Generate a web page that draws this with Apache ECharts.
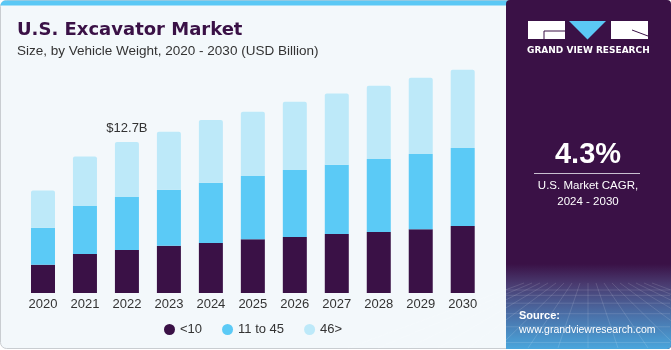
<!DOCTYPE html>
<html>
<head>
<meta charset="utf-8">
<script src="https://cdn.jsdelivr.net/npm/echarts@6/dist/echarts.min.js"></script>
<style>
html, body { margin: 0; padding: 0; background: #fff; }
#chart { width: 671px; height: 350px; }
</style>
</head>
<body>
<div id="chart"></div>
<script>
// data (USD Billion)
var years = ['2020', '2021', '2022', '2023', '2024', '2025', '2026', '2027', '2028', '2029', '2030'];
var under10 = [2.38, 3.28, 3.62, 3.98, 4.21, 4.52, 4.71, 4.96, 5.13, 5.36, 5.63];
var from11to45 = [3.11, 4.04, 4.46, 4.71, 5.07, 5.32, 5.63, 5.83, 6.14, 6.33, 6.56];
var over46 = [3.14, 4.17, 4.62, 4.88, 5.27, 5.41, 5.74, 6.00, 6.16, 6.42, 6.58];
var seriesNames = ['<10', '11 to 45', '46>'];
var labelIndex = 2;
var labelText = '$12.7B';

var purple = '#3a1146';
var blue = '#5bcaf6';
var lightBlue = '#bde9f9';
var font = 'Liberation Sans, Arial, sans-serif';

var chart = echarts.init(document.getElementById('chart'));

var topData = over46.map(function (v, i) {
    if (i === labelIndex) {
        return {
            value: v,
            label: {
                show: true, position: 'top', distance: 7,
                formatter: labelText, color: '#333', fontSize: 13, fontFamily: font
            }
        };
    }
    return v;
});

// bottom grid decoration of the right panel
var deco = [];
for (var k = 0; k < 7; k++) {
    var yy = 290 + k * k * 1.3 + k * 4;
    deco.push({
        type: 'line', silent: true,
        shape: { x1: 506, y1: yy, x2: 670, y2: yy },
        style: { stroke: 'rgba(255,255,255,0.13)', lineWidth: 1 }
    });
}
for (var m = -8; m <= 8; m++) {
    deco.push({
        type: 'line', silent: true,
        shape: { x1: 588 + m * 8, y1: 283, x2: 588 + m * 30, y2: 348 },
        style: { stroke: 'rgba(255,255,255,0.13)', lineWidth: 1 }
    });
}

var option = {
    animation: false,
    graphic: [
        {
            type: 'rect', z: -10, silent: true,
            shape: { x: 0.5, y: 0.5, width: 669, height: 348, r: 6 },
            style: { fill: '#f3f8fb', stroke: '#c9cdd1', lineWidth: 1 }
        },
        {
            type: 'rect', z: -9, silent: true,
            shape: { x: 0.5, y: 0.5, width: 510, height: 5, r: [5, 0, 0, 0] },
            style: { fill: '#5bc8f5' }
        },
        {
            type: 'rect', z: -8, silent: true,
            shape: { x: 506, y: 0, width: 165, height: 349, r: [4, 4, 4, 0] },
            style: { fill: purple }
        },
        {
            type: 'rect', z: -7, silent: true,
            shape: { x: 506, y: 264, width: 165, height: 85, r: [0, 0, 4, 0] },
            style: {
                fill: new echarts.graphic.LinearGradient(0, 0, 0, 1, [
                    { offset: 0, color: purple },
                    { offset: 0.25, color: '#4a3d72' },
                    { offset: 0.6, color: '#4a70a8' },
                    { offset: 1, color: '#4aa6dc' }
                ])
            }
        },
        { type: 'group', z: -6, silent: true, children: deco },
        // logo
        { type: 'rect', silent: true, shape: { x: 528, y: 21, width: 37, height: 18 }, style: { fill: '#fff' } },
        { type: 'polyline', silent: true, shape: { points: [[565, 31], [544, 31], [544, 39]] }, style: { stroke: purple, lineWidth: 1, fill: null } },
        { type: 'polygon', silent: true, shape: { points: [[569, 21], [606, 21], [587.5, 39.5]] }, style: { fill: '#5bc8f5' } },
        { type: 'rect', silent: true, shape: { x: 611, y: 21, width: 37, height: 18 }, style: { fill: '#fff' } },
        { type: 'line', silent: true, shape: { x1: 632, y1: 30, x2: 648, y2: 36 }, style: { stroke: purple, lineWidth: 1 } },
        {
            type: 'text', silent: true, left: 527, top: 46,
            style: { text: 'GRAND VIEW RESEARCH', fill: '#fff', font: 'bold 9px DejaVu Sans, sans-serif' }
        },
        {
            type: 'text', silent: true, x: 588, y: 155,
            style: { text: '4.3%', fill: '#fff', font: 'bold 29px ' + font, align: 'center', verticalAlign: 'middle' }
        },
        { type: 'line', silent: true, shape: { x1: 534, y1: 173.5, x2: 640, y2: 173.5 }, style: { stroke: '#c8bfd0', lineWidth: 1 } },
        {
            type: 'text', silent: true, x: 588, y: 186,
            style: { text: 'U.S. Market CAGR,', fill: '#fff', font: '11.5px ' + font, align: 'center', verticalAlign: 'middle' }
        },
        {
            type: 'text', silent: true, x: 588, y: 201.5,
            style: { text: '2024 - 2030', fill: '#fff', font: '11.5px ' + font, align: 'center', verticalAlign: 'middle' }
        },
        {
            type: 'text', silent: true, x: 519, y: 316,
            style: { text: 'Source:', fill: '#fff', font: 'bold 11px ' + font, verticalAlign: 'middle' }
        },
        {
            type: 'text', silent: true, x: 519, y: 330,
            style: { text: 'www.grandviewresearch.com', fill: '#fff', font: '10.5px ' + font, verticalAlign: 'middle' }
        }
    ],
    title: {
        text: 'U.S. Excavator Market',
        subtext: 'Size, by Vehicle Weight, 2020 - 2030 (USD Billion)',
        left: 12, top: 16, itemGap: 5,
        textStyle: { color: purple, fontSize: 18, fontWeight: 'bold', fontFamily: 'DejaVu Sans, sans-serif' },
        subtextStyle: { color: '#333', fontSize: 13.5, fontFamily: font }
    },
    legend: {
        left: 159, top: 318,
        icon: 'circle', itemWidth: 11, itemHeight: 11, itemGap: 20,
        textStyle: { color: '#333', fontSize: 13, fontFamily: font },
        data: seriesNames
    },
    grid: { left: 22, right: 187.3, top: 60, bottom: 57 },
    xAxis: {
        type: 'category',
        data: years,
        axisLine: { show: false },
        axisTick: { show: false },
        axisLabel: { color: '#333', fontSize: 13, fontFamily: font, margin: 5 }
    },
    yAxis: {
        type: 'value', min: 0, max: 19.6, show: false,
        splitLine: { show: false }
    },
    series: [
        {
            name: seriesNames[0], type: 'bar', stack: 'total', barWidth: 24,
            itemStyle: { color: purple },
            data: under10
        },
        {
            name: seriesNames[1], type: 'bar', stack: 'total', barWidth: 24,
            itemStyle: { color: blue },
            data: from11to45
        },
        {
            name: seriesNames[2], type: 'bar', stack: 'total', barWidth: 24,
            itemStyle: { color: lightBlue, borderRadius: [2, 2, 0, 0] },
            data: topData
        }
    ]
};
chart.setOption(option);
</script>
</body>
</html>
